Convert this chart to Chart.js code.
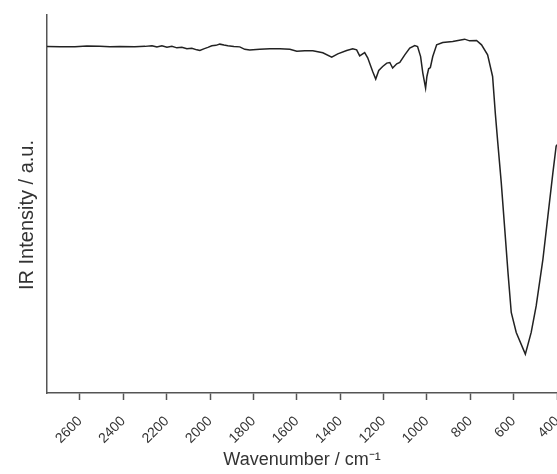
<!DOCTYPE html>
<html>
<head>
<meta charset="utf-8">
<script src="https://cdn.jsdelivr.net/npm/chart.js@4/dist/chart.umd.min.js"></script>
<style>
  html, body { margin: 0; padding: 0; background: #fff; }
  #wrap { width: 557px; height: 474px; }
</style>
</head>
<body>
<div id="wrap"><canvas id="irChart" width="557" height="474"></canvas></div>
<script>
const wavenumber = [
  2752, 2692, 2623, 2568, 2508, 2462, 2416, 2347, 2300, 2268,
  2245, 2222, 2199, 2176, 2153, 2130, 2107, 2084, 2061, 2047,
  2029, 2010, 1992, 1973, 1955, 1936, 1918, 1890, 1863, 1840,
  1817, 1771, 1724, 1678, 1632, 1600, 1563, 1526, 1480, 1439,
  1411, 1370, 1342, 1324, 1310, 1287, 1273, 1250, 1236, 1222,
  1204, 1185, 1171, 1158, 1139, 1125, 1102, 1079, 1056, 1043,
  1029, 1019, 1006, 1000, 992, 984, 973, 955, 927, 881,
  826, 803, 771, 748, 720, 697, 684, 673, 657, 642,
  626, 611, 588, 546, 519, 496, 465, 442, 419, 404, 400
];
const intensity = [
  91.65, 91.57, 91.62, 91.78, 91.76, 91.62, 91.68, 91.60, 91.70, 91.89,
  91.52, 91.84, 91.45, 91.70, 91.31, 91.45, 91.05, 91.22, 90.78, 90.60,
  91.05, 91.44, 91.84, 91.97, 92.29, 92.05, 91.89, 91.68, 91.57, 90.91,
  90.73, 90.91, 91.05, 91.05, 90.91, 90.39, 90.52, 90.52, 89.99, 88.86,
  89.73, 90.60, 91.05, 90.78, 89.20, 90.07, 88.67, 85.06, 83.05, 85.32,
  86.38, 87.27, 87.43, 85.96, 87.09, 87.43, 89.46, 91.23, 91.92, 91.65,
  89.01, 84.71, 80.68, 83.74, 85.77, 86.11, 89.01, 92.10, 92.71, 92.97,
  93.61, 93.16, 93.24, 92.10, 89.46, 83.74, 73.63, 66.16, 55.60, 44.15,
  31.85, 21.30, 16.02, 10.29, 16.02, 23.04, 35.36, 46.79, 58.24, 65.27, 65.70
];
const tickValues = [2600, 2400, 2200, 2000, 1800, 1600, 1400, 1200, 1000, 800, 600, 400];
const tituloY = 'IR Intensity / a.u.';

const pontos = wavenumber.map(function (wn, i) {
  return { x: wn, y: intensity[i] };
});

// titulo do eixo y desenhado a parte, para ficar na mesma altura do original
const tituloEixoY = {
  id: 'tituloEixoY',
  afterDraw: function (chart) {
    const c = chart.ctx;
    c.save();
    c.translate(27, 215);
    c.rotate(-Math.PI / 2);
    c.fillStyle = '#333';
    c.font = '20px "Liberation Sans", Arial, sans-serif';
    c.textAlign = 'center';
    c.textBaseline = 'middle';
    c.fillText(tituloY, 0, 0);
    c.restore();
  }
};

const ctx = document.getElementById('irChart').getContext('2d');
const irChart = new Chart(ctx, {
  type: 'line',
  data: {
    datasets: [{
      data: pontos,
      borderColor: '#222',
      borderWidth: 1.5,
      pointRadius: 0,
      tension: 0,
      fill: false
    }]
  },
  plugins: [tituloEixoY],
  options: {
    responsive: false,
    animation: false,
    layout: { padding: { top: 15, right: 0, bottom: 0, left: 0 } },
    plugins: {
      legend: { display: false },
      tooltip: { enabled: false }
    },
    scales: {
      x: {
        type: 'linear',
        reverse: true,
        min: 400,
        max: 2752,
        afterBuildTicks: function (scale) {
          scale.ticks = tickValues.map(function (v) { return { value: v }; });
        },
        afterFit: function (scale) {
          scale.height = 81;
          scale.paddingLeft = 0;
          scale.paddingRight = 0;
        },
        border: { display: true, color: '#555', width: 1.5 },
        grid: {
          display: true,
          drawOnChartArea: false,
          drawTicks: true,
          tickLength: 7,
          tickColor: '#555',
          tickWidth: 1.5
        },
        ticks: {
          autoSkip: false,
          minRotation: 45,
          maxRotation: 45,
          padding: 13,
          color: '#333',
          font: { family: 'Liberation Sans, Arial, sans-serif', size: 14 },
          callback: function (value) { return String(value); }
        },
        title: {
          display: true,
          text: 'Wavenumber / cm⁻¹',
          color: '#333',
          padding: { top: 0, bottom: 3 },
          font: { family: 'Liberation Sans, Arial, sans-serif', size: 18 }
        }
      },
      y: {
        min: 0,
        max: 100,
        afterFit: function (scale) {
          scale.width = 47;
          scale.paddingTop = 0;
          scale.paddingBottom = 0;
        },
        border: { display: true, color: '#555', width: 1.5 },
        grid: { display: false },
        ticks: { display: false },
        title: { display: false }
      }
    }
  }
});
</script>
</body>
</html>
